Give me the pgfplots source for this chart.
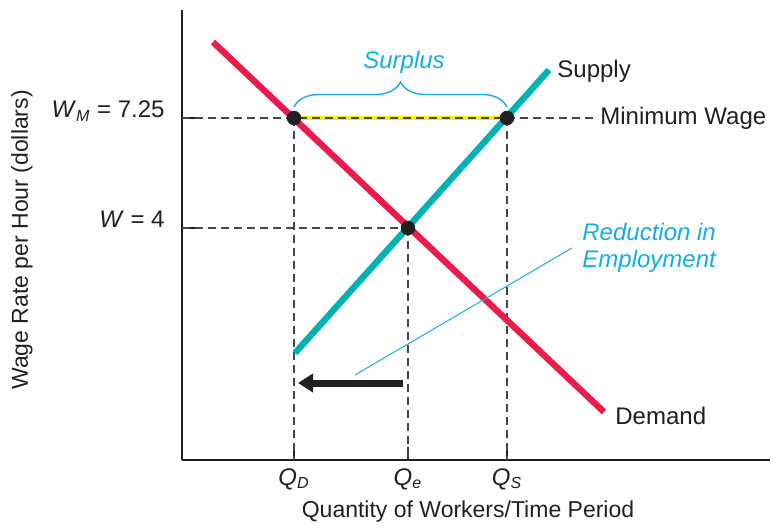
\documentclass[border=0pt]{standalone}
\usepackage{fontspec}
\setmainfont{Liberation Sans}
\usepackage{pgfplots}
\pgfplotsset{compat=1.18}
\usetikzlibrary{arrows.meta,decorations.pathreplacing}

\definecolor{demandred}{RGB}{233,28,76}
\definecolor{supplyteal}{RGB}{0,178,178}
\definecolor{labelcyan}{RGB}{24,172,230}
\definecolor{ink}{RGB}{35,31,32}
\definecolor{dashgray}{RGB}{70,70,70}
\definecolor{surplusyellow}{RGB}{250,235,20}

\newcommand{\lbl}{\fontsize{11.5}{13.5}\selectfont}
\newcommand{\lblb}{\fontsize{12}{13.5}\selectfont}

\begin{document}
\begin{tikzpicture}
\begin{axis}[
    scale only axis,
    width=294pt, height=225pt,
    xmin=182, xmax=770, ymin=69, ymax=519,
    axis lines=left,
    axis line style={-, line width=1.25pt, ink},
    clip=false,
    xtick={294,408,507},
    xticklabels={\textit{Q}\textsubscript{\textit{D}}, \textit{Q}\textsubscript{\textit{e}}, \textit{Q}\textsubscript{\textit{S}}},
    ytick={301,411},
    yticklabels={\textit{W} = 4, \textit{W}\textsubscript{\textit{M}} = 7.25},
    tick align=inside,
    major tick length=6.5pt,
    tick style={ink, line width=0.6pt},
    ticklabel style={font=\lblb, text=ink, inner sep=0pt},
    yticklabel style={anchor=base east, xshift=-8.5pt},
    xticklabel style={anchor=north, yshift=-4pt},
]
% surplus segment
\addplot[surplusyellow, line width=2pt] coordinates {(294,411) (507,411)};
% dashed guides
\addplot[dashgray, line width=0.6pt, dash pattern=on 4pt off 2.5pt] coordinates {(182,411) (595,411)};
\addplot[dashgray, line width=0.6pt, dash pattern=on 4pt off 2.5pt] coordinates {(182,301) (408,301)};
\addplot[dashgray, line width=0.6pt, dash pattern=on 4pt off 2.5pt] coordinates {(294,411) (294,69)};
\addplot[dashgray, line width=0.6pt, dash pattern=on 4pt off 2.5pt] coordinates {(408,301) (408,69)};
\addplot[dashgray, line width=0.6pt, dash pattern=on 4pt off 2.5pt] coordinates {(507,411) (507,69)};
% demand and supply
\addplot[demandred, line width=3.2pt] coordinates {(213,487) (604,117)};
\addplot[supplyteal, line width=3.2pt] coordinates {(295,176) (549,459)};
% points
\addplot[only marks, mark=*, mark size=3.4pt, ink] coordinates {(294,411) (507,411) (408,301)};
% reduction arrow
\addplot[ink, line width=3.5pt, -{Triangle[length=7.5pt,width=9pt]}] coordinates {(403,146) (298,146)};

% annotations
\draw[labelcyan, line width=0.5pt] (axis cs:355,154) -- (axis cs:572,281);
\draw[labelcyan, line width=0.7pt, decorate, decoration={brace, amplitude=12.5pt}]
    (axis cs:294,422) -- (axis cs:507,422);
\node[labelcyan, font=\lblb\itshape, inner sep=0pt] at (axis cs:404,467) {Surplus};
\node[labelcyan, font=\lblb\itshape, inner sep=0pt, anchor=west, align=left] at (axis cs:582,281) {Reduction in\\Employment};
\node[ink, font=\lblb, inner sep=0pt, anchor=west] at (axis cs:557,458) {Supply};
\node[ink, font=\lblb, inner sep=0pt, anchor=west] at (axis cs:600,411) {Minimum Wage};
\node[ink, font=\lblb, inner sep=0pt, anchor=west] at (axis cs:615,113) {Demand};
\node[ink, font=\lbl, inner sep=0pt, rotate=90] at (axis cs:22,289) {Wage Rate per Hour (dollars)};
\node[ink, font=\lbl, inner sep=0pt] at (axis cs:468,17) {Quantity of Workers/Time Period};

\coordinate (bl) at (axis cs:0,0);
\coordinate (tr) at (axis cs:779,529);
\end{axis}
\pgfresetboundingbox
\path[use as bounding box] (bl) rectangle (tr);
\end{tikzpicture}
\end{document}
